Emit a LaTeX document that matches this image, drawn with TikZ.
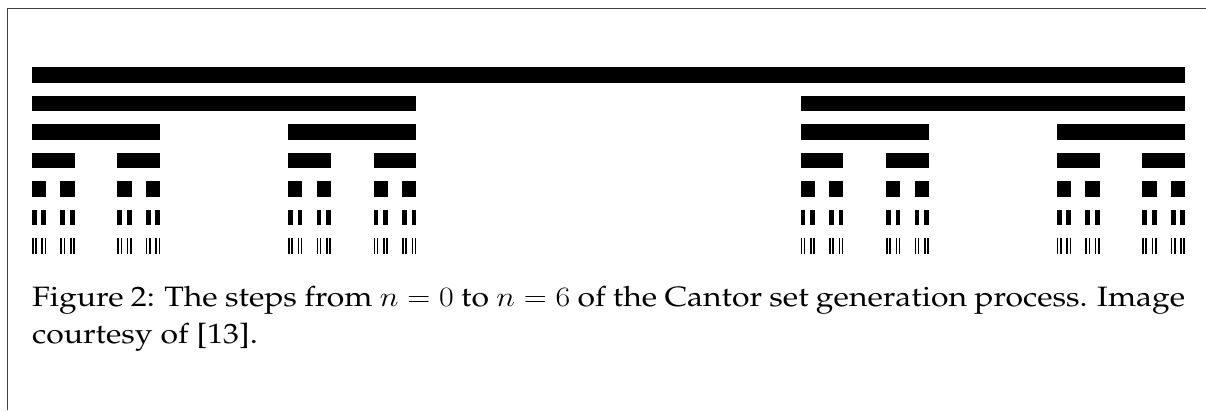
\RequirePackage{fix-cm}
\documentclass[tikz,border=0pt]{standalone}
\usepackage[T1]{fontenc}
\renewcommand\rmdefault{ppl}
\tikzset{
  cantorbar/.style={fill=black},
  framerule/.style={draw=black!75, line width=1.3pt},
  captiontext/.style={anchor=base west, inner sep=0pt}
}
\newcommand\cantorseg[3]{%
  \begingroup
  \fill[cantorbar] ({#2},{67.3+28.5*#1}) rectangle ++({#3},15.5);
  \ifnum#1<6
    \pgfmathsetmacro\cantW{#3/3}%
    \pgfmathsetmacro\cantR{#2+2*#3/3}%
    \pgfmathtruncatemacro\cantL{#1+1}%
    \edef\cantNext{\noexpand\cantorseg{\cantL}{#2}{\cantW}\noexpand\cantorseg{\cantL}{\cantR}{\cantW}}%
    \cantNext
  \fi
  \endgroup
}
\begin{document}
\begin{tikzpicture}[x=1pt,y=-1pt]
\useasboundingbox (0,0) rectangle (1206,410);
\fill[white] (0,0) rectangle (1206,410);
\draw[framerule] (7.5,410) -- (7.5,8.5) -- (1206,8.5);
\cantorseg{0}{32}{1153}
\node[captiontext] (cap) at (32,306.5) {\scalebox{1.14}[1]{\parbox[t]{1011.4pt}{\fontsize{28}{36.5}\selectfont Figure 2: The steps from $n=0$ to $n=6$ of the Cantor set generation process. Image\linebreak courtesy of [13].}}};
\end{tikzpicture}
\end{document}
